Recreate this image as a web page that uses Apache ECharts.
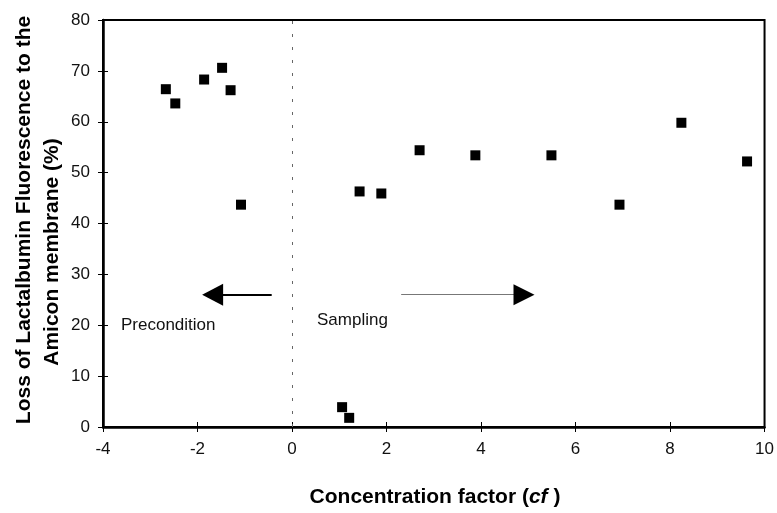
<!DOCTYPE html>
<html>
<head>
<meta charset="utf-8">
<script src="https://cdn.jsdelivr.net/npm/echarts@6/dist/echarts.min.js"></script>
<style>
html,body{margin:0;padding:0;background:#fff;}
#c{width:777px;height:513px;}
</style>
</head>
<body>
<div id="c"></div>
<script>
// ---- data ----
var precondX = [-2.67, -2.47, -1.86, -1.48, -1.30, -1.08];
var precondY = [66.4, 63.6, 68.3, 70.6, 66.2, 43.7];
var samplingX = [1.06, 1.21, 1.43, 1.89, 2.70, 3.88, 5.49, 6.93, 8.24, 9.63];
var samplingY = [3.9, 1.8, 46.3, 45.9, 54.4, 53.4, 53.4, 43.7, 59.8, 52.2];
var xTicks = {min: -4, max: 10, interval: 2};
var yTicks = {min: 0, max: 80, interval: 10};
var yTitle1 = 'Loss of Lactalbumin Fluorescence to the';
var yTitle2 = 'Amicon membrane (%)';
var arrowY = 26;
var leftArrow = [-0.43, -1.68];   // shaft start, head centre
var rightArrow = [2.31, 4.91];

var FONT = '"Liberation Sans", Arial, Helvetica, sans-serif';

function pairs(xs, ys){ return xs.map(function(x,i){ return [x, ys[i]]; }); }

var chart = echarts.init(document.getElementById('c'), null, {renderer:'canvas'});

var axisLabel = {fontFamily: FONT, fontSize: 17, color: '#111'};

var option = {
  animation: false,
  backgroundColor: '#fff',
  grid: {left: 103, right: 11, top: 20, bottom: 86, show: true, borderColor: '#000', borderWidth: 2},
  xAxis: [
    {type: 'value', min: xTicks.min, max: xTicks.max, interval: xTicks.interval,
     axisLine: {onZero: false, lineStyle: {color: '#000', width: 2.5}},
     axisTick: {show: true, inside: false, length: 5, lineStyle: {color: '#000', width: 1}},
     axisLabel: Object.assign({margin: 14}, axisLabel),
     splitLine: {show: false}},
    {type: 'value', min: xTicks.min, max: xTicks.max, interval: xTicks.interval, position: 'bottom',
     axisLine: {show: false, onZero: false},
     axisTick: {show: true, inside: true, length: 5, lineStyle: {color: '#000', width: 1}},
     axisLabel: {show: false}, splitLine: {show: false}}
  ],
  yAxis: [
    {type: 'value', min: yTicks.min, max: yTicks.max, interval: yTicks.interval,
     axisLine: {show: true, onZero: false, lineStyle: {color: '#000', width: 2.5}},
     axisTick: {show: true, inside: false, length: 5, lineStyle: {color: '#000', width: 1}},
     axisLabel: Object.assign({margin: 13}, axisLabel),
     splitLine: {show: false}},
    {type: 'value', min: yTicks.min, max: yTicks.max, interval: yTicks.interval, position: 'left',
     axisLine: {show: false, onZero: false},
     axisTick: {show: true, inside: true, length: 5, lineStyle: {color: '#000', width: 1}},
     axisLabel: {show: false}, splitLine: {show: false}}
  ],
  series: [
    {type: 'scatter', name: 'Precondition', data: pairs(precondX, precondY),
     symbol: 'rect', symbolSize: 10, itemStyle: {color: '#000', opacity: 1},
     markLine: {
       silent: true, animation: false, symbol: ['none', 'none'],
       label: {show: false},
       data: [
         [{coord: [0, yTicks.min], lineStyle: {color: '#666', width: 1, type: [3, 10]}},
          {coord: [0, yTicks.max]}],
         [{coord: [leftArrow[0], arrowY], lineStyle: {color: '#000', width: 2, type: 'solid'}},
          {coord: [leftArrow[1], arrowY]}],
         [{coord: [rightArrow[0], arrowY], lineStyle: {color: '#777', width: 1, type: 'solid'}},
          {coord: [rightArrow[1], arrowY]}]
       ]
     },
     markPoint: {
       silent: true, animation: false, label: {show: false},
       data: [
         {coord: [leftArrow[1], arrowY], symbol: 'triangle', symbolSize: [22, 21], symbolRotate: 90, itemStyle: {color: '#000'}},
         {coord: [rightArrow[1], arrowY], symbol: 'triangle', symbolSize: [21, 21], symbolRotate: -90, itemStyle: {color: '#000'}}
       ]
     }
    },
    {type: 'scatter', name: 'Sampling', data: pairs(samplingX, samplingY),
     symbol: 'rect', symbolSize: 10, itemStyle: {color: '#000', opacity: 1}}
  ],
  graphic: [
    {type: 'text', x: 24, y: 220, rotation: Math.PI / 2, silent: true,
     style: {text: yTitle1, font: 'bold 21px ' + FONT, fill: '#000', align: 'center', verticalAlign: 'middle'}},
    {type: 'text', x: 52, y: 252, rotation: Math.PI / 2, silent: true,
     style: {text: yTitle2, font: 'bold 21px ' + FONT, fill: '#000', align: 'center', verticalAlign: 'middle'}},
    {type: 'text', x: 435, y: 497, silent: true,
     style: {text: '{b|Concentration factor (}{i|cf}{b| )}', align: 'center', verticalAlign: 'middle',
       rich: {
         b: {fontFamily: FONT, fontWeight: 'bold', fontSize: 21, fill: '#000', color: '#000'},
         i: {fontFamily: FONT, fontWeight: 'bold', fontStyle: 'italic', fontSize: 21, fill: '#000', color: '#000'}
       }}},
    {type: 'text', x: 121, y: 325, silent: true,
     style: {text: 'Precondition', font: '17px ' + FONT, fill: '#111', align: 'left', verticalAlign: 'middle'}},
    {type: 'text', x: 317, y: 320, silent: true,
     style: {text: 'Sampling', font: '17px ' + FONT, fill: '#111', align: 'left', verticalAlign: 'middle'}}
  ]
};
chart.setOption(option);
</script>
</body>
</html>
